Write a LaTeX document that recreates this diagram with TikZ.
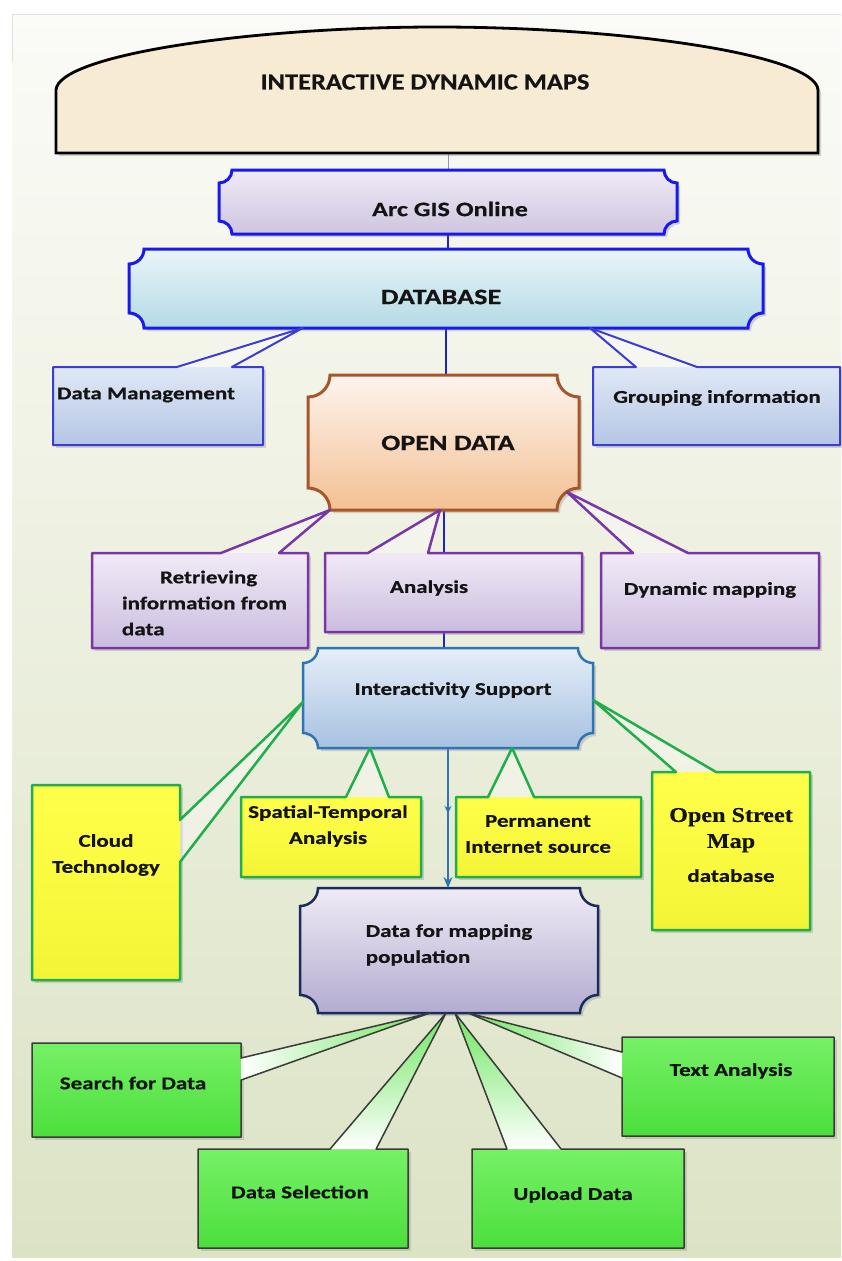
\documentclass[tikz,border=0pt]{standalone}
\usepackage{fontspec}
\usetikzlibrary{calc,shadows,decorations.markings,arrows.meta}
\newfontfamily\lblfont{Carlito}[FakeStretch=1.28,FakeBold=0.6]
\newfontfamily\ttlfont{Carlito}[FakeStretch=1.15,FakeBold=0.6]
\newfontfamily\osmfont{Liberation Serif}[FakeStretch=1.15,FakeBold=0.4]
\newcommand\osmf{\osmfont\bfseries\fontsize{21}{26}\selectfont}
\pgfdeclarelayer{bg}\pgfdeclarelayer{edges}\pgfdeclarelayer{shapes}
\pgfsetlayers{bg,edges,shapes,main}
\definecolor{bgTop}{HTML}{FBFBF7}
\definecolor{bgMid}{HTML}{EEF2E4}
\definecolor{bgBot}{HTML}{DCE3C5}
\definecolor{domeFill}{HTML}{F8EBD3}
\definecolor{arcTop}{HTML}{EFEAF6}
\definecolor{arcBot}{HTML}{CEC5DF}
\definecolor{blueLine}{HTML}{1818F0}
\definecolor{dbTop}{HTML}{E9F5F8}
\definecolor{dbBot}{HTML}{B3DAE6}
\definecolor{bcTop}{HTML}{DFE8F5}
\definecolor{bcBot}{HTML}{B5C6E4}
\definecolor{bcLine}{HTML}{3B3BD8}
\definecolor{odTop}{HTML}{FDF4EE}
\definecolor{odBot}{HTML}{F3C093}
\definecolor{odLine}{HTML}{A5572B}
\definecolor{puTop}{HTML}{F1EAF6}
\definecolor{puBot}{HTML}{CBBCDF}
\definecolor{puLine}{HTML}{7A35A8}
\definecolor{isTop}{HTML}{E6EEF8}
\definecolor{isBot}{HTML}{A6C1E0}
\definecolor{isLine}{HTML}{2E75B6}
\definecolor{yeTop}{HTML}{FFFF4A}
\definecolor{yeBot}{HTML}{F4F436}
\definecolor{yeLine}{HTML}{1FAE4A}
\definecolor{dfTop}{HTML}{EFEBF5}
\definecolor{dfBot}{HTML}{B3ACD0}
\definecolor{dfLine}{HTML}{1D2A5E}
\definecolor{grTop}{HTML}{76F066}
\definecolor{grBot}{HTML}{4CDF3C}
\definecolor{grLine}{HTML}{3A3A3A}
\definecolor{grWedge}{HTML}{6FE660}
\definecolor{connC}{HTML}{2020CC}
\definecolor{thinC}{HTML}{8A98B8}

% plaque (rectangle with concave corners) drawn from a node's anchors
\newcommand\plaque[3]{%
 \path[#3] let \p1=(#1.north west), \p2=(#1.south east), \n1={#2} in
 (\x1+\n1,\y1) -- (\x2-\n1,\y1)
 .. controls (\x2-\n1,\y1-0.552*\n1) and (\x2-0.552*\n1,\y1-\n1) .. (\x2,\y1-\n1)
 -- (\x2,\y2+\n1)
 .. controls (\x2-0.552*\n1,\y2+\n1) and (\x2-\n1,\y2+0.552*\n1) .. (\x2-\n1,\y2)
 -- (\x1+\n1,\y2)
 .. controls (\x1+\n1,\y2+0.552*\n1) and (\x1+0.552*\n1,\y2+\n1) .. (\x1,\y2+\n1)
 -- (\x1,\y1-\n1)
 .. controls (\x1+0.552*\n1,\y1-\n1) and (\x1+\n1,\y1-0.552*\n1) .. (\x1+\n1,\y1)
 -- cycle;}
% callout wedge on top edge
\newcommand\wedgeT[6]{%
 \path[#5] ($(#1.north west)!#2!(#1.north east)$) -- (#4) -- ($(#1.north west)!#3!(#1.north east)$) -- cycle;
 \draw[#6] (#1.north west) -- ($(#1.north west)!#2!(#1.north east)$) -- (#4) -- ($(#1.north west)!#3!(#1.north east)$) -- (#1.north east) -- (#1.south east) -- (#1.south west) -- cycle;}
% callout wedge on right edge
\newcommand\wedgeR[6]{%
 \path[#5] ($(#1.north east)!#2!(#1.south east)$) -- (#4) -- ($(#1.north east)!#3!(#1.south east)$) -- cycle;
 \draw[#6] (#1.north west) -- (#1.north east) -- ($(#1.north east)!#2!(#1.south east)$) -- (#4) -- ($(#1.north east)!#3!(#1.south east)$) -- (#1.south east) -- (#1.south west) -- cycle;}
% callout wedge on left edge
\newcommand\wedgeL[6]{%
 \path[#5] ($(#1.north west)!#2!(#1.south west)$) -- (#4) -- ($(#1.north west)!#3!(#1.south west)$) -- cycle;
 \draw[#6] (#1.north west) -- (#1.north east) -- (#1.south east) -- (#1.south west) -- ($(#1.north west)!#3!(#1.south west)$) -- (#4) -- ($(#1.north west)!#2!(#1.south west)$) -- cycle;}

\tikzset{
 lbl/.style={font=\lblfont\bfseries\fontsize{18}{26}\selectfont, text=black!92, inner sep=0pt, align=center},
 lblbig/.style={lbl, font=\lblfont\bfseries\fontsize{22}{26}\selectfont},
 ttl/.style={lbl, font=\ttlfont\bfseries\fontsize{23}{27}\selectfont},
 hold/.style={rectangle, inner sep=0pt, outer sep=0pt},
 shad/.style={drop shadow={shadow xshift=3pt, shadow yshift=-3pt, opacity=0.3}},
 bluebox/.style={hold, shad, top color=bcTop, bottom color=bcBot},
 purbox/.style={hold, shad, top color=puTop, bottom color=puBot},
 yelbox/.style={hold, shad, top color=yeTop, bottom color=yeBot},
 grnbox/.style={hold, shad, top color=grTop, bottom color=grBot},
 paleW/.style={fill=white, fill opacity=0.35},
 bcl/.style={draw=bcLine, line width=2pt, line join=round},
 pul/.style={draw=puLine, line width=2.5pt, line join=round},
 yel/.style={draw=yeLine, line width=2.5pt, line join=round},
 grl/.style={draw=grLine, line width=1.5pt, line join=round},
 thinl/.style={draw=thinC, line width=1pt},
 conn/.style={draw=connC, line width=2pt},
 arrowline/.style={draw=isLine, line width=2.5pt, -{Stealth[length=11pt,width=9pt]},
   postaction={decorate}, decoration={markings, mark=at position 0.47 with {\arrow[isLine]{Stealth[length=8pt,width=7pt]}}}}
}

\begin{document}
\begin{tikzpicture}[x=1pt,y=-1pt]
\useasboundingbox (0,0) rectangle (841,1261);
\begin{pgfonlayer}{bg}
 \fill[white] (0,0) rectangle (841,1261);
 \shade[top color=bgTop, middle color=bgMid, bottom color=bgBot] (12,14) rectangle (841,1257);
 \draw[black!12, line width=1pt] (12,14) -- (841,14);
 \draw[black!12, line width=1pt] (12,14) -- (12,62);
\end{pgfonlayer}

% ---- holder nodes
\node[hold, minimum width=762pt, minimum height=126pt] (dome) at (437,90) {};
\node[hold, minimum width=458pt, minimum height=64pt] (arc) at (448,202) {};
\node[hold, minimum width=634pt, minimum height=79pt] (db) at (446,288.5) {};
\node[hold, minimum width=271pt, minimum height=135pt] (od) at (443.5,442.5) {};
\node[hold, minimum width=290pt, minimum height=100pt] (is) at (448,698) {};
\node[hold, minimum width=298pt, minimum height=125pt] (dfm) at (449,950.5) {};

% ---- plaques and dome
\begin{pgfonlayer}{shapes}
 \path[draw=black, line width=2.8pt, fill=domeFill, shad]
   (dome.south west) -- ++(0,-63) .. controls ++(2,-35) and (250,27) .. (437,27)
   .. controls (625,27) and ($(dome.south east)+(-2,-98)$) .. ($(dome.south east)+(0,-63)$) -- (dome.south east) -- cycle;
 \plaque{arc}{13}{shad, top color=arcTop, bottom color=arcBot, draw=blueLine, line width=3pt}
 \plaque{db}{15}{shad, top color=dbTop, bottom color=dbBot, draw=blueLine, line width=3pt}
 \plaque{od}{22}{shad, top color=odTop, bottom color=odBot, draw=odLine, line width=3pt}
 \plaque{is}{15}{shad, top color=isTop, bottom color=isBot, draw=isLine, line width=2.5pt}
 \plaque{dfm}{18}{shad, top color=dfTop, bottom color=dfBot, draw=dfLine, line width=2.5pt}
\end{pgfonlayer}

% ---- connectors
\begin{pgfonlayer}{edges}
 \draw[thinl] (arc.north |- dome.south) -- (arc.north);
 \draw[conn] (arc.south) -- (arc.south |- db.north);
 \draw[conn] (db.south) -- (db.south |- od.north);
 \draw[conn] (od.south) -- (od.south |- is.north);
 \draw[arrowline] (is.south) -- (is.south |- dfm.north);
\end{pgfonlayer}

% ---- callout boxes
\node[bluebox, minimum width=210pt, minimum height=78pt] (dm) at (158,406) {};
\node[bluebox, minimum width=247pt, minimum height=78pt] (gi) at (716.5,406) {};
\node[purbox, minimum width=216pt, minimum height=95pt] (ret) at (200,600.5) {};
\node[purbox, minimum width=257pt, minimum height=79pt] (ana) at (453.5,592.5) {};
\node[purbox, minimum width=218pt, minimum height=95pt] (dyn) at (710,600.5) {};
\node[yelbox, minimum width=148pt, minimum height=195pt] (cloud) at (106,882.5) {};
\node[yelbox, minimum width=180pt, minimum height=80pt] (st) at (331,837) {};
\node[yelbox, minimum width=185pt, minimum height=80pt] (pis) at (548.5,837) {};
\node[yelbox, minimum width=158pt, minimum height=158pt] (osm) at (731,851) {};
\node[grnbox, minimum width=209pt, minimum height=94pt] (sfd) at (136.5,1090) {};
\node[grnbox, minimum width=210pt, minimum height=99pt] (ds) at (303,1198.5) {};
\node[grnbox, minimum width=212pt, minimum height=99pt] (ud) at (578,1198.5) {};
\node[grnbox, minimum width=212pt, minimum height=99pt] (ta) at (728,1086.5) {};

% ---- wedge tips on the parent shapes
\coordinate (tdm) at ($(db.south west)!0.274!(db.south east)$);
\coordinate (tgi) at ($(db.south west)!0.727!(db.south east)$);
\coordinate (tret) at ($(od.south west)!0.081!(od.south east)$);
\coordinate (tana) at ($(od.south west)!0.487!(od.south east)$);
\coordinate (tdyn) at ($(od.south east)+(-12,-18)$);
\coordinate (tcl) at ($(is.west)+(0,4)$);
\coordinate (tst) at ($(is.south west)!0.231!(is.south east)$);
\coordinate (tpis) at ($(is.south west)!0.721!(is.south east)$);
\coordinate (tosm) at ($(is.east)+(0,2)$);
\coordinate (tsfd) at ($(dfm.south west)!0.436!(dfm.south east)$);
\coordinate (tds) at ($(dfm.south west)!0.49!(dfm.south east)$);
\coordinate (tud) at ($(dfm.south west)!0.52!(dfm.south east)$);
\coordinate (tta) at ($(dfm.south west)!0.564!(dfm.south east)$);

% ---- wedges and outlines
\wedgeT{dm}{0.590}{0.852}{tdm}{paleW}{bcl}
\wedgeT{gi}{0.174}{0.421}{tgi}{paleW}{bcl}
\wedgeT{ret}{0.597}{0.866}{tret}{paleW}{pul}
\wedgeT{ana}{0.167}{0.401}{tana}{paleW}{pul}
\wedgeT{dyn}{0.147}{0.399}{tdyn}{paleW}{pul}
\wedgeR{cloud}{0.179}{0.395}{tcl}{paleW}{yel}
\wedgeT{st}{0.583}{0.822}{tst}{paleW}{yel}
\wedgeT{pis}{0.173}{0.422}{tpis}{paleW}{yel}
\wedgeT{osm}{0.152}{0.405}{tosm}{paleW}{yel}
\wedgeR{sfd}{0.16}{0.394}{tsfd}{left color=white, right color=grWedge}{grl}
\wedgeT{ds}{0.629}{0.848}{tds}{top color=grWedge, bottom color=white}{grl}
\wedgeT{ud}{0.165}{0.42}{tud}{top color=grWedge, bottom color=white}{grl}
\wedgeL{ta}{0.152}{0.414}{tta}{left color=grWedge, right color=white}{grl}

% ---- texts
\node[ttl] (title) at (425,82) {INTERACTIVE DYNAMIC MAPS};
\node[lbl, font=\lblfont\bfseries\fontsize{20.5}{24}\selectfont] (arct) at (450,209) {Arc GIS Online};
\node[lblbig] (dbt) at (441,297) {DATABASE};
\node[lbl] (dmt) at (146,395) {Data Management};
\node[lbl] (git) at (717,398) {Grouping information};
\node[lblbig] (odt) at (448,443) {OPEN DATA};
\node[lbl, align=left] (rett) at (204.5,603) {\hspace*{38pt}Retrieving\\information from\\data};
\node[lbl] (anat) at (429,588) {Analysis};
\node[lbl] (dynt) at (710,590) {Dynamic mapping};
\node[lbl] (ist) at (453,690) {Interactivity Support};
\node[lbl] (cloudt) at (106,855) {Cloud\\Technology};
\node[lbl] (stt) at (328,826) {Spatial-Temporal\\Analysis};
\node[lbl] (pist) at (538,834) {Permanent\\Internet source};
\node[lbl] (osmt) at (731,845) {\osmf Open Street\\\osmf Map\\[8pt]database};
\node[lbl, align=left] (dfmt) at (449,945) {Data for mapping\\population};
\node[lbl] (sfdt) at (133,1083) {Search for Data};
\node[lbl] (dst) at (300,1192) {Data Selection};
\node[lbl] (udt) at (573,1195) {Upload Data};
\node[lbl] (tat) at (731,1071) {Text Analysis};
\end{tikzpicture}
\end{document}
